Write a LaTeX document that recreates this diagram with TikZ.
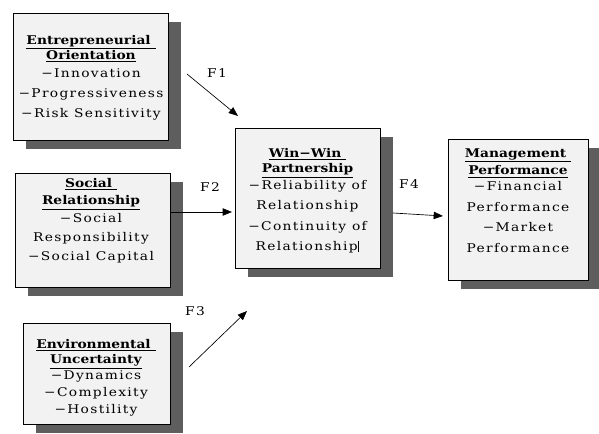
\documentclass[tikz,border=0pt]{standalone}
\usepackage{fontspec}
\usetikzlibrary{shadows,arrows.meta}
\newfontfamily\boxfont[FakeStretch=1.15,LetterSpace=11,BoldFeatures={LetterSpace=0}]{DejaVu Serif}
\definecolor{boxgray}{HTML}{F2F2F2}
\definecolor{shadowgray}{HTML}{5E5E5E}
\newcommand{\headline}[1]{\underline{\textbf{#1}}}
\newcommand{\minus}{\char"2212\relax}

\tikzset{
  factorbox/.style={draw=black, line width=0.6pt, fill=boxgray, inner sep=0pt,
    drop shadow={shadow xshift=10pt, shadow yshift=-6.5pt, fill=shadowgray, opacity=1}},
  boxtext/.style={anchor=north, inner sep=0pt, align=center,
    font=\boxfont\fontsize{9}{11.5}\selectfont},
  flabel/.style={inner sep=0pt, font=\boxfont\fontsize{9}{10}\selectfont},
  path/.style={-{Triangle[length=7pt,width=5.5pt]}, line width=0.5pt}
}

\begin{document}
\begin{tikzpicture}[x=0.75pt,y=0.75pt,yscale=-1,xscale=1]
\useasboundingbox (0,0) rectangle (599,434);

%Shape: Rectangle [Entrepreneurial Orientation]
\node[factorbox, minimum width=155*0.75pt, minimum height=127*0.75pt] (eo) at (90.5,76.5) {};
%Shape: Rectangle [Social Relationship]
\node[factorbox, minimum width=155*0.75pt, minimum height=114*0.75pt] (sr) at (92.5,230) {};
%Shape: Rectangle [Environmental Uncertainty]
\node[factorbox, minimum width=147*0.75pt, minimum height=101*0.75pt] (eu) at (96.5,373.5) {};
%Shape: Rectangle [Win-Win Partnership]
\node[factorbox, minimum width=145*0.75pt, minimum height=140*0.75pt] (ww) at (307.5,198) {};
%Shape: Rectangle [Management Performance]
\node[factorbox, minimum width=140*0.75pt, minimum height=141*0.75pt] (mp) at (518,209.5) {};

% Text Node
\node[boxtext] (eotext) at (91,35) {\headline{Entrepreneurial\ }\\\headline{Orientation}\\[1.5pt]
  \minus Innovation\\[3.5pt]\minus Progressiveness\\[3.5pt]\minus Risk Sensitivity};
% Text Node
\node[boxtext] (srtext) at (91,178) {\headline{Social\ }\\[1.5pt]\headline{Relationship}\\[2pt]
  \minus Social\\[2.5pt]Responsibility\\[2.5pt]\minus Social Capital};
% Text Node
\node[boxtext] (eutext) at (96,339) {\headline{Environmental\ }\\\headline{Uncertainty}\\[0.5pt]
  \minus Dynamics\\[1pt]\minus Complexity\\[1pt]\minus Hostility};
% Text Node
\node[boxtext] (wwtext) at (307.5,148) {\headline{Win\minus Win\ }\\\headline{Partnership}\\[1pt]
  \minus Reliability of\\[3.8pt]Relationship\\[3.8pt]\minus Continuity of\\[3.8pt]Relationship\rule[-1pt]{1.2pt}{8.5pt}};
% Text Node
\node[boxtext] (mptext) at (518,148) {\headline{Management\ }\\[1.8pt]\headline{Performance}\\[0.5pt]
  \minus Financial\\[4pt]Performance\\[3.5pt]\minus Market\\[4pt]Performance};

%Straight Lines [paths]
\coordinate (f1start) at (187,74);
\coordinate (f1end) at (238,116);
\coordinate (f2start) at (170,212);
\coordinate (f2end) at (232,212);
\coordinate (f3start) at (189,367);
\coordinate (f3end) at (247,311);
\coordinate (f4start) at (393,213);
\coordinate (f4end) at (443,216);
\draw[path] (f1start) -- (f1end);
\draw[path] (f2start) -- (f2end);
\draw[path] (f3start) -- (f3end);
\draw[path] (f4start) -- (f4end);

% Text Node
\node[flabel] (f1) at (217,73) {F1};
\node[flabel] (f2) at (210,187) {F2};
\node[flabel] (f3) at (195,311) {F3};
\node[flabel] (f4) at (409,184) {F4};

\end{tikzpicture}
\end{document}
